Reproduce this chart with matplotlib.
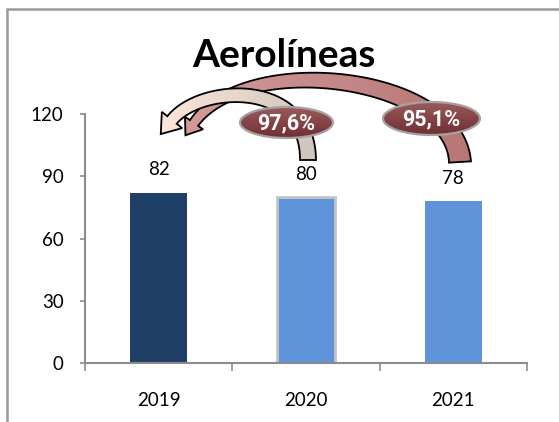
import numpy as np
import matplotlib
matplotlib.use("Agg")
import matplotlib.pyplot as plt
from matplotlib.patches import Polygon, Ellipse
from matplotlib.colors import LinearSegmentedColormap

years = ["2019", "2020", "2021"]
values = [82, 80, 78]
ratios = ["97,6%", "95,1%"]
bar_colors = ["#1F3F66", "#5F94DB", "#5F94DB"]

W, H = 559, 422
plt.rcParams['font.family'] = ['Lato', 'DejaVu Sans']

fig = plt.figure(figsize=(W / 100, H / 100), dpi=100)

ax = fig.add_axes([85 / W, 1 - 363 / H, (527 - 85) / W, (363 - 114) / H])
x = np.arange(len(years))
bars = ax.bar(x, values, width=0.39, color=bar_colors, zorder=2)
bars[1].set_edgecolor("#c4c4c4")
bars[1].set_linewidth(2)

ax.set_xlim(-0.5, 2.5)
ax.set_ylim(0, 120)
ax.set_yticks([0, 30, 60, 90, 120])
ax.set_xticks([-0.5, 0.5, 1.5, 2.5])
ax.set_xticklabels([])
ax.set_xticks(x, minor=True)
ax.set_xticklabels(years, minor=True)
ax.tick_params(axis="x", which="major", length=6, width=1.2, color="#8c8c8c", direction="out")
ax.tick_params(axis="x", which="minor", length=0, pad=21, labelsize=13.5)
ax.tick_params(axis="y", length=3.5, width=1.2, color="#8c8c8c", pad=12, labelsize=13.5)
for s in ["top", "right"]:
    ax.spines[s].set_visible(False)
for s in ["left", "bottom"]:
    ax.spines[s].set_color("#8c8c8c")
    ax.spines[s].set_linewidth(1.5)

for xi, v in zip(x, values):
    ax.annotate(str(v), (xi, v), xytext=(0, 16.5), textcoords="offset points",
                ha="center", va="center", fontsize=13.5)

# overlay in pixel coordinates (y down) for the decorations
ov = fig.add_axes([0, 0, 1, 1], zorder=5)
ov.set_xlim(0, W)
ov.set_ylim(H, 0)
ov.axis("off")

# outer frame (only left and top edges visible)
ov.plot([7, 7, W], [H, 9, 9], color="#9a9a9a", lw=1.8, solid_joinstyle="miter")


def gradient_fill(patch, c_a, c_b, box, horizontal=True):
    x0, x1, y0, y1 = box
    cmap = LinearSegmentedColormap.from_list("g", [c_a, c_b])
    g = np.linspace(0, 1, 256)
    img = g[None, :] if horizontal else g[:, None]
    im = ov.imshow(img, cmap=cmap, extent=(x0, x1, y1, y0), aspect="auto",
                   interpolation="bilinear", zorder=patch.get_zorder() - 0.1)
    im.set_clip_path(patch)


def curved_arrow(p0, c1, c2, p3, w0, w1, hw, hl, z, grad):
    P = np.array([p0, c1, c2, p3], dtype=float)
    t = np.linspace(0, 1, 80)[:, None]
    pts = ((1 - t) ** 3) * P[0] + 3 * ((1 - t) ** 2) * t * P[1] + 3 * (1 - t) * t ** 2 * P[2] + t ** 3 * P[3]
    d = 3 * ((1 - t) ** 2) * (P[1] - P[0]) + 6 * (1 - t) * t * (P[2] - P[1]) + 3 * t ** 2 * (P[3] - P[2])
    d = d / np.linalg.norm(d, axis=1)[:, None]
    n = np.column_stack([-d[:, 1], d[:, 0]])
    w = (w0 + (w1 - w0) * t) / 2
    left = pts + n * w
    right = pts - n * w
    B, dB, nB = pts[-1], d[-1], n[-1]
    head = [B + nB * hw / 2, B + dB * hl, B - nB * hw / 2]
    poly = np.vstack([left, head, right[::-1]])
    p = Polygon(poly, closed=True, facecolor="none", edgecolor="black", lw=1.3, zorder=z)
    ov.add_patch(p)
    gradient_fill(p, grad[0], grad[1],
                  (poly[:, 0].min(), poly[:, 0].max(), poly[:, 1].min(), poly[:, 1].max()))


# arrow from 2021 back to 2019
curved_arrow((460, 162), (455, 75), (245, 50), (194, 123), 22, 10, 22, 15, 3,
             ("#d39a9a", "#b87676"))
# arrow from 2020 back to 2019
curved_arrow((308, 160), (308, 78), (200, 85), (172, 120), 16, 12, 26, 18, 4,
             ("#fce6d8", "#cfc5be"))

ell_pos = [(286.5, 122.5, 93, 31), (431.5, 118.5, 97, 33)]
for (cx, cy, ew, eh), r in zip(ell_pos, ratios):
    e = Ellipse((cx, cy), ew, eh, facecolor="none", edgecolor="#a3a3a3", lw=1.6, zorder=6)
    ov.add_patch(e)
    gradient_fill(e, "#9c5a5c", "#6e2f33", (cx - ew / 2, cx + ew / 2, cy - eh / 2, cy + eh / 2),
                  horizontal=False)
    ov.text(cx, cy + 1, r, ha="center", va="center", color="white", fontsize=15.5,
            fontweight="bold", family=["Roboto", "DejaVu Sans"], zorder=7)

ov.text(284, 67, "Aerolíneas", ha="center", va="baseline", fontsize=28, fontweight="bold")

fig.savefig("out.png", dpi=100)
